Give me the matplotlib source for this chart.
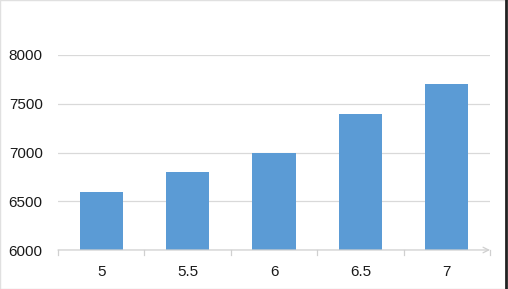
import matplotlib.pyplot as plt
import numpy as np

categories = ['5', '5.5', '6', '6.5', '7']
values = [6600, 6800, 7000, 7400, 7700]
y_ticks = [6000, 6500, 7000, 7500, 8000]

plt.rcParams['font.family'] = ['Liberation Sans', 'DejaVu Sans']

fig = plt.figure(figsize=(5.08, 2.89), dpi=100)
ax = fig.add_axes([58 / 508, 1 - 250 / 289, 432 / 508, 195 / 289])

x = np.arange(len(categories))
ax.bar(x, values, width=0.5, color='#5b9bd5', zorder=3)

ax.set_xlim(-0.5, len(categories) - 0.5)
ax.set_ylim(6000, 8000)
ax.set_yticks(y_ticks)
ax.set_yticklabels([str(v) for v in y_ticks])
ax.set_xticks(x)
ax.set_xticklabels(categories)

# gridlines
ax.grid(axis='y', color='#d9d9d9', linewidth=0.9, zorder=0)
ax.set_axisbelow(True)

for s in ['top', 'right', 'left', 'bottom']:
    ax.spines[s].set_visible(False)

# category axis with arrow
ax.annotate('', xy=(1.0, 0), xycoords='axes fraction', xytext=(0, 0),
            arrowprops=dict(arrowstyle='->', color='#d0d0d0', lw=0.9,
                            shrinkA=0, shrinkB=0, mutation_scale=10))
for b in np.arange(-0.5, len(categories), 1.0):
    ax.plot([b, b], [6000, 6000 - 2000 * 5 / 195], color='#d0d0d0', lw=0.9,
            clip_on=False, zorder=4)

ax.tick_params(axis='y', length=0, pad=11, labelsize=11, labelcolor='#1a1a1a')
ax.tick_params(axis='x', length=0, pad=11, labelsize=11, labelcolor='#1a1a1a')

# thin border around the image
fig.patches.append(plt.Rectangle((0, 0), 1, 1, transform=fig.transFigure,
                                 fill=False, edgecolor='#e0e0e0', lw=1))
fig.patches.append(plt.Line2D([0.997, 0.997], [0, 1], transform=fig.transFigure,
                              color='#222222', lw=2))

fig.savefig('out.png', dpi=100)
